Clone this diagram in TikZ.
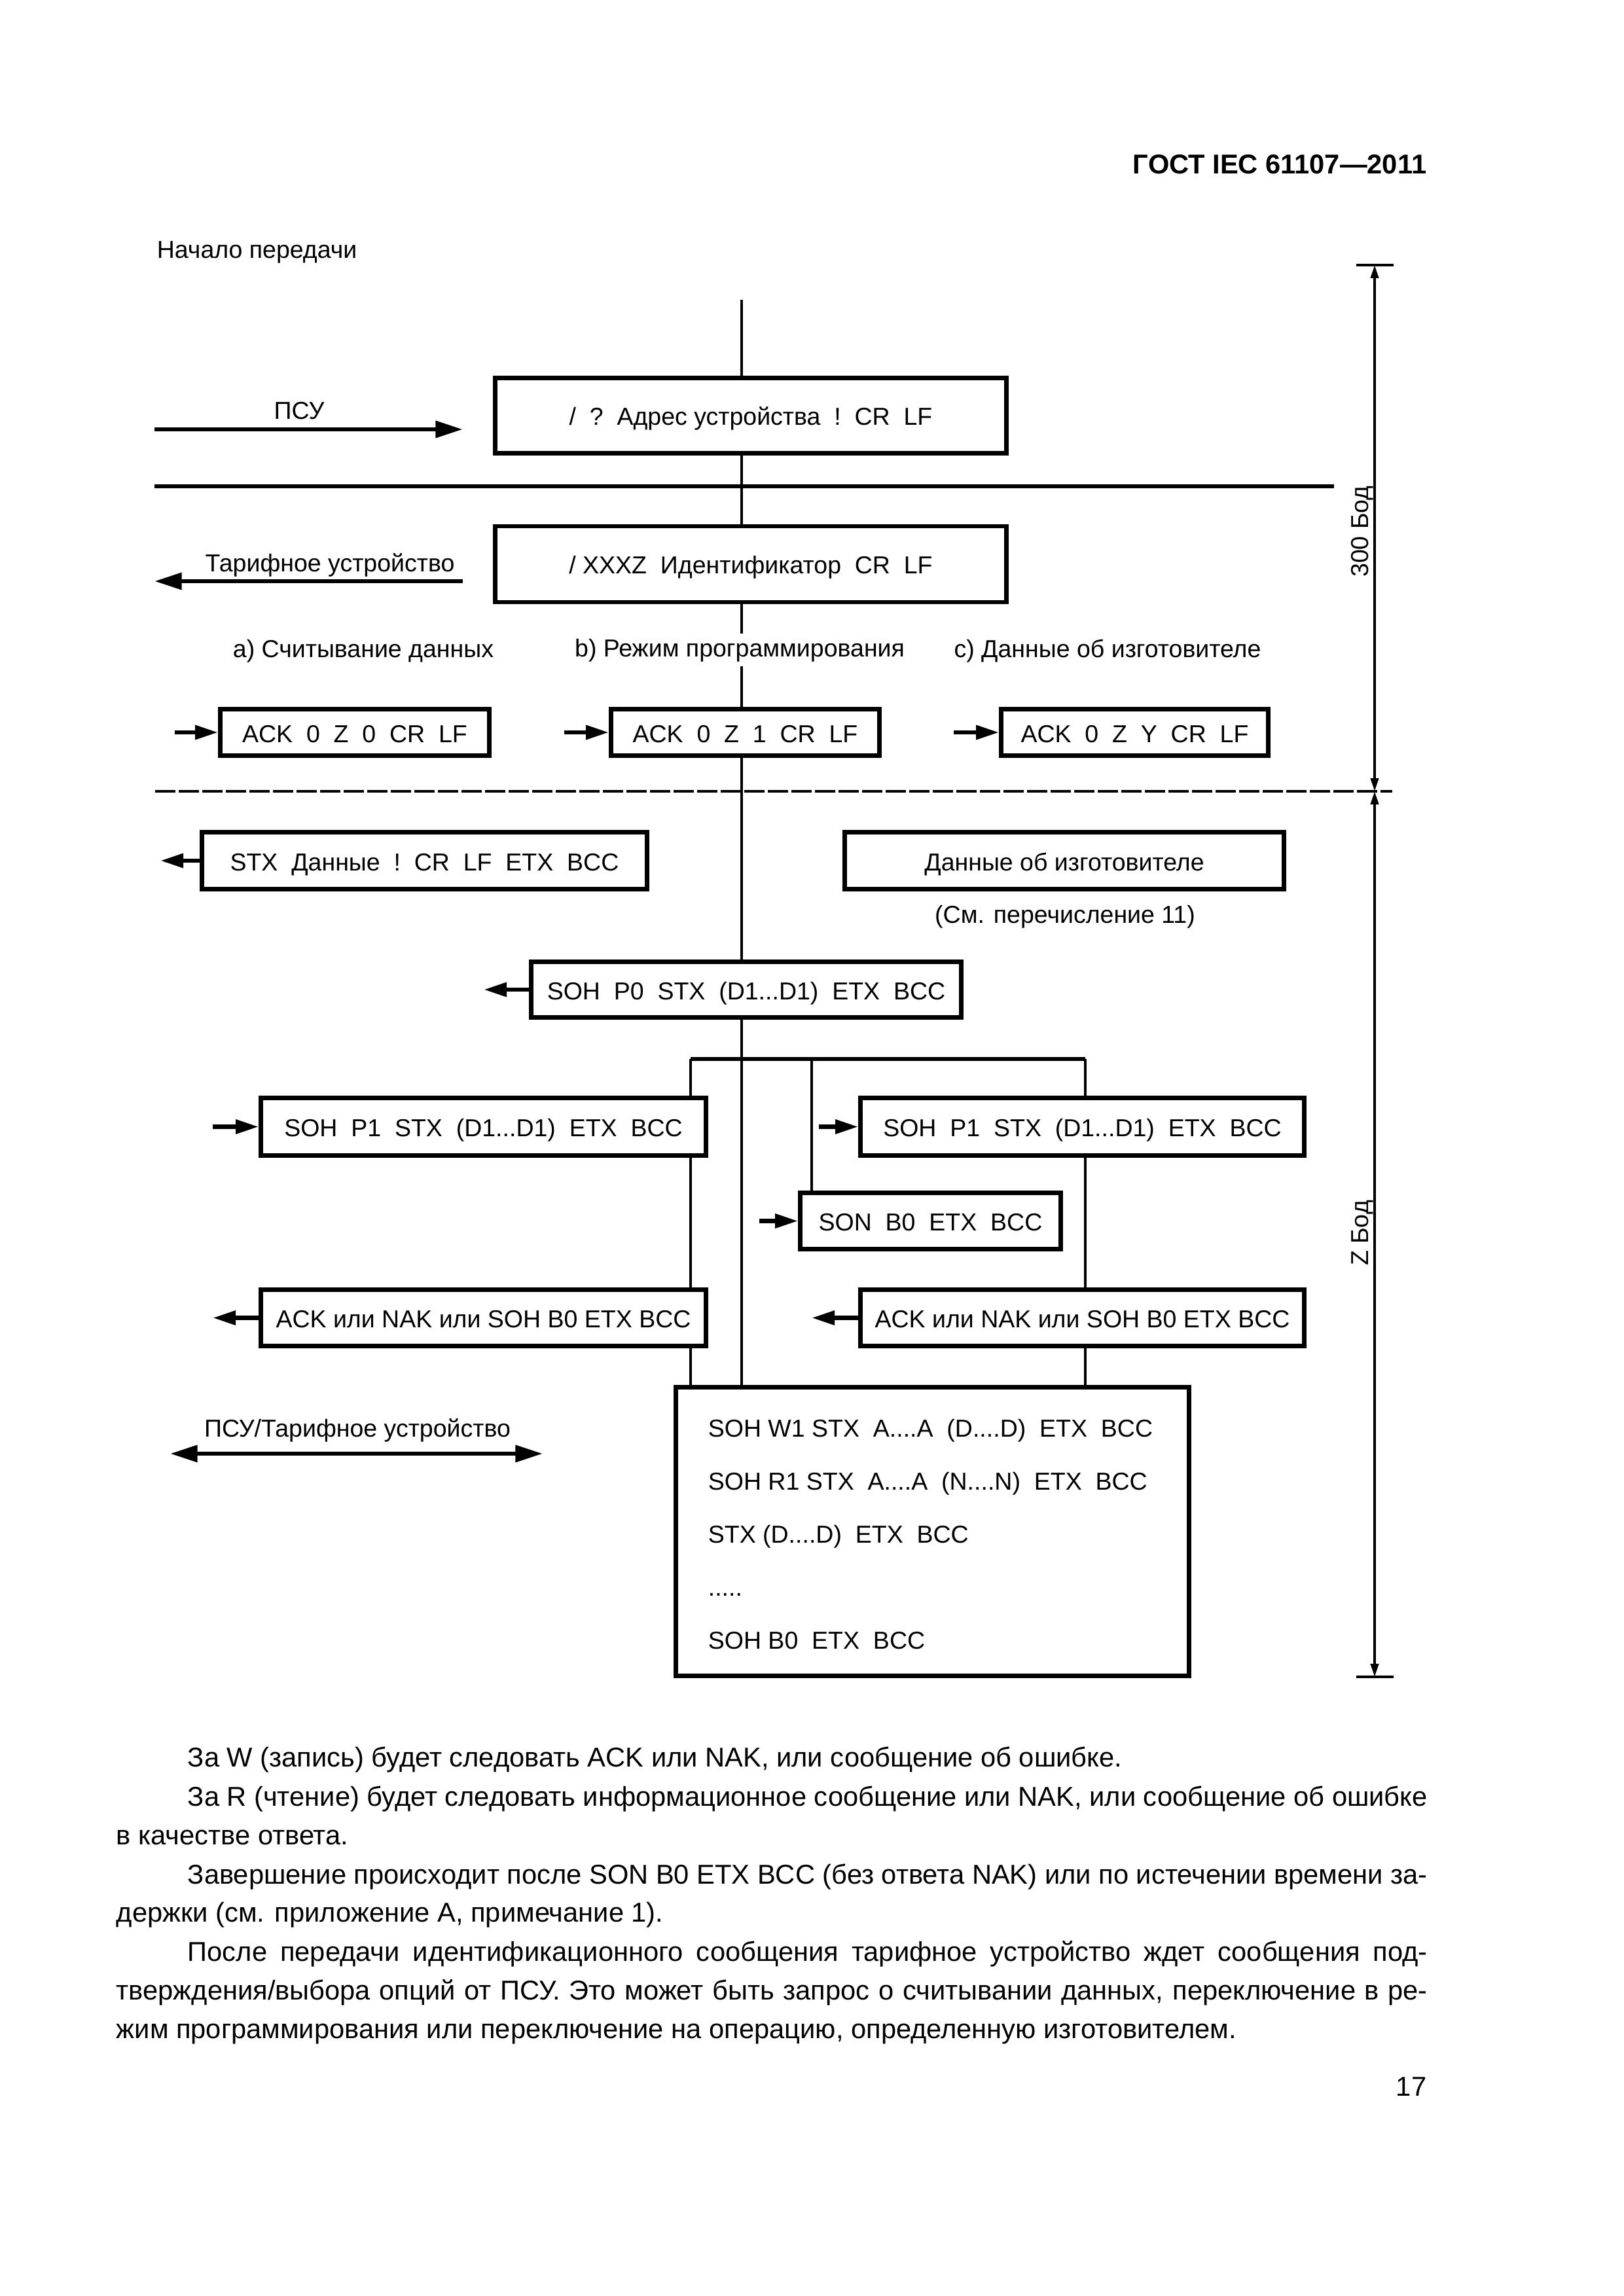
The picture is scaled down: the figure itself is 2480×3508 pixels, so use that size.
\documentclass[tikz,border=0pt]{standalone}
\usepackage{fontspec}
\setmainfont{Liberation Sans}
\usetikzlibrary{arrows.meta,backgrounds}
\begin{document}
\begin{tikzpicture}[x=0.24pt,y=-0.24pt,
  txt/.style={font=\fontsize{9}{11}\selectfont, inner sep=0pt, text height=0.72em, text depth=0pt},
  box/.style={draw, line width=1.6pt, fill=white, font=\fontsize{9}{11}\selectfont, inner sep=0pt, text height=0.72em, text depth=0pt},
  wh/.style 2 args={minimum width=#1*0.24pt, minimum height=#2*0.24pt},
  conn/.style={line width=1.1pt},
  heavy/.style={line width=1.6pt},
  bigarrow/.style={line width=1.6pt, -{Triangle[length=10pt,width=6pt]}},
  dblarrow/.style={line width=1.6pt, {Triangle[length=10pt,width=6pt]}-{Triangle[length=10pt,width=6pt]}},
  smallarrow/.style={line width=1.6pt, -{Triangle[length=8.4pt,width=5pt]}},
  dimarrow/.style={line width=0.9pt, {Triangle[length=4.8pt,width=2.9pt]}-{Triangle[length=4.8pt,width=2.9pt]}},
  body/.style={font=\fontsize{10}{14}\selectfont, inner sep=0pt, anchor=base west},
]
\useasboundingbox (0,0) rectangle (2480,3508);

% header
\node[font=\bfseries\fontsize{10}{12}\selectfont, anchor=base east, inner sep=0pt] (hdr) at (2180,266) {ГОСТ IEC 61107—2011};
\node[txt, anchor=west] (start) at (239,380) {Начало передачи};

% boxes
\node[box, wh={781}{115}] (q1) at (1147,635) {/~~?~~Адрес устройства~~!~~CR~~LF};
\node[box, wh={781}{116}] (q2) at (1147,862) {/ XXXZ~~Идентификатор~~CR~~LF};
\node[box, wh={411}{71}] (ackA) at (542,1119) {ACK~~0~~Z~~0~~CR~~LF};
\node[box, wh={410}{71}] (ackB) at (1138.5,1119) {ACK~~0~~Z~~1~~CR~~LF};
\node[box, wh={408}{71}] (ackC) at (1733.5,1119) {ACK~~0~~Z~~Y~~CR~~LF};
\node[box, wh={680}{87}] (stx) at (648.5,1315) {STX~~Данные~~!~~CR~~LF~~ETX~~BCC};
\node[box, wh={671}{87}] (manuf) at (1626,1315) {Данные об изготовителе};
\node[box, wh={657}{85}] (p0) at (1140,1512) {SOH~~P0~~STX~~(D1...D1)~~ETX~~BCC};
\node[box, wh={680}{88}] (p1L) at (738.5,1721.5) {SOH~~P1~~STX~~(D1...D1)~~ETX~~BCC};
\node[box, wh={678}{88}] (p1R) at (1653.5,1721.5) {SOH~~P1~~STX~~(D1...D1)~~ETX~~BCC};
\node[box, wh={398}{86}] (son) at (1421.5,1865.5) {SON~~B0~~ETX~~BCC};
\node[box, wh={680}{86}] (nakL) at (738.5,2013.5) {ACK или NAK или SOH B0 ETX BCC};
\node[box, wh={678}{86}] (nakR) at (1653.5,2013.5) {ACK или NAK или SOH B0 ETX BCC};
\node[box, wh={784}{441}] (final) at (1424.5,2340) {};

% final box lines
\node[txt, anchor=base west] (f1) at (1081,2195) {SOH W1 STX~~A....A~~(D....D)~~ETX~~BCC};
\node[txt, anchor=base west] (f2) at (1081,2276) {SOH R1 STX~~A....A~~(N....N)~~ETX~~BCC};
\node[txt, anchor=base west] (f3) at (1081,2357) {STX (D....D)~~ETX~~BCC};
\node[txt, anchor=base west] (f4) at (1081,2438) {.....};
\node[txt, anchor=base west] (f5) at (1081,2519) {SOH B0~~ETX~~BCC};

% labels
\node[txt] (lpsu) at (457,626) {ПСУ};
\node[txt] (ltar) at (504,859) {Тарифное устройство};
\node[txt] (la) at (555,990) {a) Считывание данных};
\node[txt, fill=white, text depth=0.22em, inner xsep=1pt, inner ysep=1.2pt] (lb) at (1130,993) {b) Режим программирования};
\node[txt] (lc) at (1692,990) {c) Данные об изготовителе};
\node[txt] (lsee) at (1627,1395) {(См. перечисление 11)};
\node[txt] (lboth) at (546,2180) {ПСУ/Тарифное устройство};
\node[txt, rotate=90] (b300) at (2075,812) {300 Бод};
\node[txt, rotate=90] (bz) at (2075,1884) {Z Бод};

% coordinates
\coordinate (top) at (1133,458);
\coordinate (barL) at (1055,1618);
\coordinate (barM) at (1240,1618);
\coordinate (barR) at (1658,1618);
\coordinate (sepL) at (236,743);
\coordinate (sepR) at (2038,743);
\coordinate (dashL) at (237,1209);
\coordinate (dashR) at (2127,1209);
\coordinate (d1) at (2100,405);
\coordinate (d2) at (2100,1209);
\coordinate (d3) at (2100,2562);
\coordinate (t1L) at (2072,405);
\coordinate (t1R) at (2129,405);
\coordinate (t3L) at (2072,2562);
\coordinate (t3R) at (2129,2562);
\coordinate (psuA) at (236,656);
\coordinate (psuB) at (707,656);
\coordinate (tarA) at (707,888);
\coordinate (tarB) at (236,888);
\coordinate (bothA) at (260,2221);
\coordinate (bothB) at (829,2221);
\coordinate (inA) at (267,1119);
\coordinate (inB) at (862,1119);
\coordinate (inC) at (1457,1119);
\coordinate (outStx) at (245,1315);
\coordinate (outP0) at (739,1512);
\coordinate (inP1L) at (325,1721.5);
\coordinate (inP1R) at (1251,1721.5);
\coordinate (inSon) at (1160,1865.5);
\coordinate (outNakL) at (325,2013.5);
\coordinate (outNakR) at (1240,2013.5);

\begin{pgfonlayer}{background}
\fill[white] (0,0) rectangle (2480,3508);
\draw[conn] (top) -- (top |- lb.north);
\draw[conn] (top |- lb.south) -- (top |- final.north);
\draw[heavy] (barL) -- (barR);
\draw[conn] (barL) -- (barL |- final.north);
\draw[conn] (barM) -- (barM |- son.north);
\draw[conn] (barR) -- (barR |- final.north);
\end{pgfonlayer}

% separators
\draw[heavy] (sepL) -- (sepR);
\draw[line width=1pt, dash pattern=on 7.44pt off 1.2pt] (dashL) -- (dashR);

% dimension
\draw[line width=0.8pt] (t1L) -- (t1R);
\draw[line width=0.8pt] (t3L) -- (t3R);
\draw[dimarrow] (d1) -- (d2);
\draw[dimarrow] (d2) -- (d3);

% arrows
\draw[bigarrow] (psuA) -- (psuB);
\draw[bigarrow] (tarA) -- (tarB);
\draw[dblarrow] (bothA) -- (bothB);
\draw[smallarrow] (inA) -- (ackA.west);
\draw[smallarrow] (inB) -- (ackB.west);
\draw[smallarrow] (inC) -- (ackC.west);
\draw[smallarrow] (stx.west) -- (outStx);
\draw[smallarrow] (p0.west) -- (outP0);
\draw[smallarrow] (inP1L) -- (p1L.west);
\draw[smallarrow] (inP1R) -- (p1R.west);
\draw[smallarrow] (inSon) -- (son.west);
\draw[smallarrow] (nakL.west) -- (outNakL);
\draw[smallarrow] (nakR.west) -- (outNakR);

% body text
\node[body] (t1) at (286,2699) {За W (запись) будет следовать ACK или NAK, или сообщение об ошибке.};
\node[body] (t2) at (286,2759) {\makebox[454.56pt][s]{За R (чтение) будет следовать информационное сообщение или NAK, или сообщение об ошибке}};
\node[body] (t3) at (177,2818) {в качестве ответа.};
\node[body] (t4) at (286,2878) {\makebox[454.56pt][s]{Завершение происходит после SON B0 ETX BCC (без ответа NAK) или по истечении времени за-}};
\node[body] (t5) at (177,2936) {держки (см. приложение А, примечание 1).};
\node[body] (t6) at (286,2996) {\makebox[454.56pt][s]{После передачи идентификационного сообщения тарифное устройство ждет сообщения под-}};
\node[body] (t7) at (177,3055) {\makebox[480.72pt][s]{тверждения/выбора опций от ПСУ. Это может быть запрос о считывании данных, переключение в ре-}};
\node[body] (t8) at (177,3114) {жим программирования или переключение на операцию, определенную изготовителем.};
\node[body, anchor=base east] (pg) at (2180,3202) {17};
\end{tikzpicture}
\end{document}
